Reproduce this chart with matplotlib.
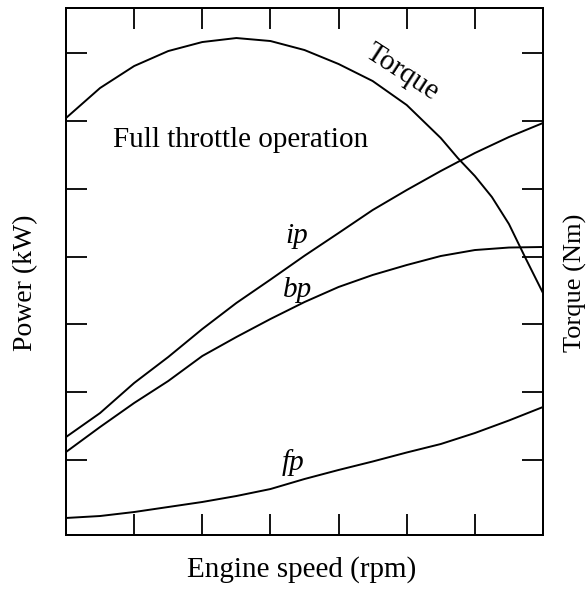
import matplotlib
matplotlib.use("Agg")
import matplotlib.pyplot as plt

# ---- data (engine speed in tick units, power/torque in tick units) ----
speed = [0, 0.5, 1, 1.5, 2, 2.5, 3, 3.5, 4, 4.5, 5, 5.5, 6, 6.5, 7]
ip = [1.339, 1.693, 2.136, 2.519, 2.932, 3.316, 3.661, 4.013, 4.348, 4.687,
      4.982, 5.263, 5.528, 5.764, 5.971]
bp = [1.118, 1.487, 1.841, 2.165, 2.534, 2.814, 3.080, 3.330, 3.552, 3.729,
      3.876, 4.009, 4.097, 4.134, 4.142]
fp = [0.145, 0.174, 0.233, 0.307, 0.381, 0.469, 0.572, 0.720, 0.853, 0.978,
      1.111, 1.236, 1.398, 1.583, 1.782]
torque_speed = [0, 0.5, 1, 1.5, 2, 2.5, 3, 3.5, 4, 4.5, 5, 5.5, 5.75, 6, 6.25,
                6.5, 6.75, 7]
torque = [6.044, 6.487, 6.811, 7.032, 7.165, 7.224, 7.180, 7.047, 6.841, 6.590,
          6.236, 5.749, 5.454, 5.189, 4.879, 4.481, 3.965, 3.463]
x_ticks = [1, 2, 3, 4, 5, 6]
y_ticks = [1, 2, 3, 4, 5, 6, 7]

plt.rcParams['font.family'] = ['Liberation Serif', 'DejaVu Serif']

fig = plt.figure(figsize=(5.88, 5.92), dpi=100)
ax = fig.add_axes([66/588, 1-535/592, (543-66)/588, (535-8)/592])
ax.set_xlim(0, 7)
ax.set_ylim(-0.106, 7.667)

lw = 1.4
ax.plot(speed, ip, color='black', lw=lw)
ax.plot(speed, bp, color='black', lw=lw)
ax.plot(speed, fp, color='black', lw=lw)

for s in ax.spines.values():
    s.set_linewidth(1.4)

ax.set_xticks(x_ticks)
ax.set_yticks(y_ticks)
ax.tick_params(axis='both', which='both', direction='in', length=15, width=1.3,
               labelbottom=False, labelleft=False, top=True, bottom=True,
               left=True, right=False)

ax2 = ax.twinx()
ax2.set_ylim(ax.get_ylim())
ax2.set_yticks(y_ticks)
ax2.tick_params(axis='y', direction='in', length=15, width=1.3, labelright=False)
ax2.plot(torque_speed, torque, color='black', lw=lw)
for s in ax2.spines.values():
    s.set_linewidth(1.4)

fs = 21
ax.text(2.568, 5.72, "Full throttle operation", fontsize=fs, ha='center', va='center')
ax.text(4.93, 6.72, "Torque", fontsize=fs, ha='center', va='center', rotation=-33,
        rotation_mode='anchor')
ax.text(3.39, 4.30, "ip", fontsize=fs, style='italic', ha='center', va='center')
ax.text(3.405, 3.507, "bp", fontsize=fs, style='italic', ha='center', va='center')
ax.text(3.331, 0.956, "fp", fontsize=fs, style='italic', ha='center', va='center')

fig.text(26/588, 1-283/592, "Power (kW)", fontsize=20, rotation=90, ha='center', va='center')
fig.text(575/588, 1-283/592, "Torque (Nm)", fontsize=19, rotation=90, ha='center', va='center')
fig.text(302/588, 1-570/592, "Engine speed (rpm)", fontsize=fs, ha='center', va='center')

fig.savefig("out.png", dpi=100)
